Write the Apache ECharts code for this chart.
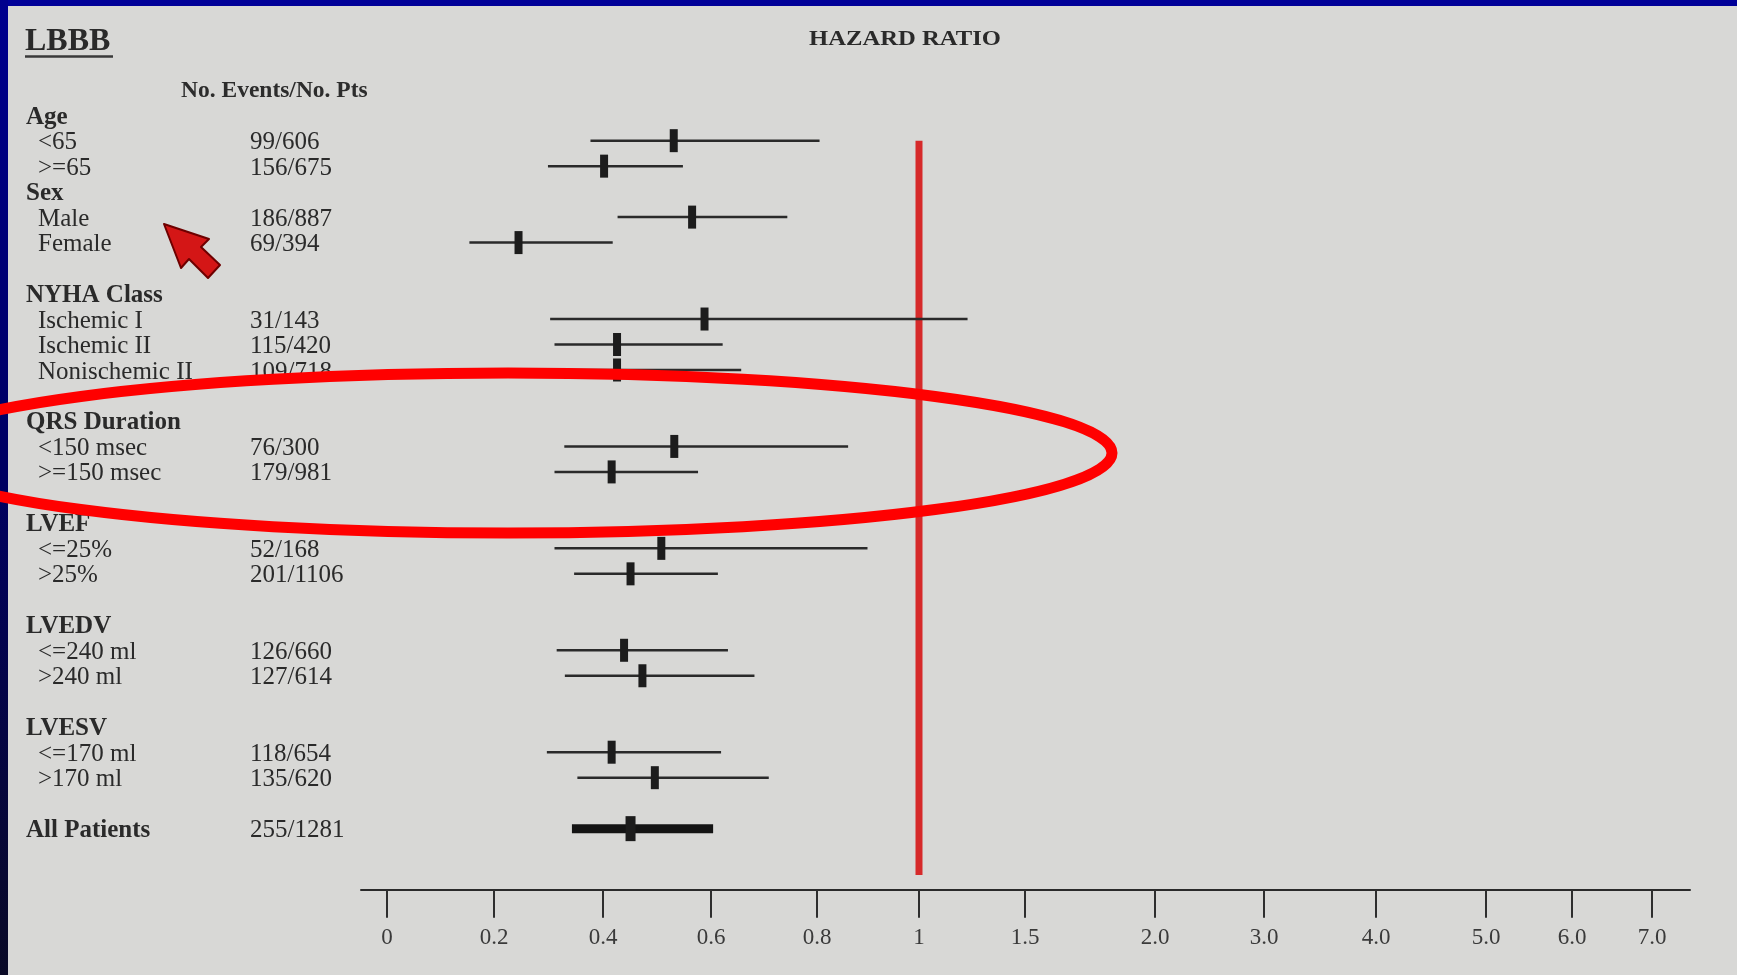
<!DOCTYPE html>
<html>
<head>
<meta charset="utf-8">
<title>LBBB – Hazard Ratio by Subgroup</title>
<script src="https://cdn.jsdelivr.net/npm/echarts@6/dist/echarts.min.js"></script>
<style>
  html, body { margin: 0; padding: 0; background: #d8d8d6; }
  #chart { width: 1737px; height: 975px; }
</style>
</head>
<body>
<div id="chart"></div>
<script>
// One entry per printed line, top to bottom: group headings, subgroups, blank spacer lines.
const rowLabels = [
  'Age', '<65', '>=65',
  'Sex', 'Male', 'Female', '',
  'NYHA Class', 'Ischemic I', 'Ischemic II', 'Nonischemic II', '',
  'QRS Duration', '<150 msec', '>=150 msec', '',
  'LVEF', '<=25%', '>25%', '',
  'LVEDV', '<=240 ml', '>240 ml', '',
  'LVESV', '<=170 ml', '>170 ml', '',
  'All Patients'
];
const eventCounts = [
  '', '99/606', '156/675',
  '', '186/887', '69/394', '',
  '', '31/143', '115/420', '109/718', '',
  '', '76/300', '179/981', '',
  '', '52/168', '201/1106', '',
  '', '126/660', '127/614', '',
  '', '118/654', '135/620', '',
  '255/1281'
];
const hazardRatio = [
  null, 0.531, 0.402,
  null, 0.565, 0.245, null,
  null, 0.588, 0.426, 0.426, null,
  null, 0.532, 0.416, null,
  null, 0.508, 0.451, null,
  null, 0.439, 0.473, null,
  null, 0.416, 0.496, null,
  0.451
];
const ciLower = [
  null, 0.377, 0.299,
  null, 0.427, 0.154, null,
  null, 0.303, 0.311, 0.330, null,
  null, 0.329, 0.311, null,
  null, 0.311, 0.347, null,
  null, 0.315, 0.330, null,
  null, 0.297, 0.353, null,
  0.343
];
const ciUpper = [
  null, 0.805, 0.548,
  null, 0.744, 0.418, null,
  null, 1.229, 0.622, 0.657, null,
  null, 0.861, 0.576, null,
  null, 0.899, 0.613, null,
  null, 0.632, 0.682, null,
  null, 0.619, 0.709, null,
  0.604
];
const tickValues = [0, 0.2, 0.4, 0.6, 0.8, 1, 1.5, 2, 3, 4, 5, 6, 7];
const tickLabels = ['0', '0.2', '0.4', '0.6', '0.8', '1', '1.5', '2.0', '3.0', '4.0', '5.0', '6.0', '7.0'];
const referenceHR = 1;

// The printed hazard-ratio axis is piecewise: every tick has its own place along the axis.
// tickPlaces gives that place (in axis units) for each entry of tickValues.
const tickPlaces = [0, 107, 216, 324, 430, 532, 638, 768, 877, 989, 1099, 1185, 1265];
function toAxis(hr) {
  for (let i = 0; i < tickValues.length - 1; i++) {
    const a = tickValues[i], b = tickValues[i + 1];
    if (hr <= b || i === tickValues.length - 2) {
      return tickPlaces[i] + (hr - a) / (b - a) * (tickPlaces[i + 1] - tickPlaces[i]);
    }
  }
  return tickPlaces[0];
}

const FONT = '"Liberation Serif", "Times New Roman", serif';
const TEXT_COLOR = '#2a2a2a';

const forestData = [];
rowLabels.forEach((label, i) => {
  if (hazardRatio[i] == null) return;
  forestData.push([
    toAxis(ciLower[i]), toAxis(hazardRatio[i]), toAxis(ciUpper[i]), i,
    label === 'All Patients' ? 1 : 0
  ]);
});
const textData = rowLabels.map((label, i) => [0, i]);

const chart = echarts.init(document.getElementById('chart'), null, { renderer: 'canvas' });

chart.setOption({
  animation: false,
  backgroundColor: '#d8d8d6',
  grid: { left: 361, right: 47, top: 89.7, bottom: 85.2 },
  xAxis: {
    type: 'value',
    position: 'bottom',
    min: -26,
    max: 1303,
    splitLine: { show: false },
    axisLine: { show: true, onZero: false, lineStyle: { color: '#2a2a2a', width: 2 } },
    axisTick: {
      show: true,
      customValues: tickPlaces,
      length: 28,
      lineStyle: { color: '#2e2e2e', width: 2 }
    },
    axisLabel: {
      show: true,
      customValues: tickPlaces,
      margin: 37,
      fontFamily: FONT,
      fontSize: 23,
      color: '#3a3a3a',
      formatter: v => {
        const k = tickPlaces.indexOf(v);
        return k >= 0 ? tickLabels[k] : '';
      }
    }
  },
  yAxis: {
    type: 'value',
    inverse: true,
    min: -1,
    max: 30.4,
    show: false
  },
  series: [
    {
      // line of no effect
      type: 'line',
      z: 1,
      silent: true,
      symbol: 'none',
      lineStyle: { color: '#d62a2a', width: 7 },
      data: [[toAxis(referenceHR), 1], [toAxis(referenceHR), 29.82]]
    },
    {
      // confidence interval bars with point estimate ticks
      type: 'custom',
      z: 3,
      silent: true,
      data: forestData,
      renderItem: (params, api) => {
        const row = api.value(3);
        const lo = api.coord([api.value(0), row]);
        const mid = api.coord([api.value(1), row]);
        const hi = api.coord([api.value(2), row]);
        const overall = api.value(4) === 1;
        const w = overall ? 10 : 8;
        const h = overall ? 25 : 23;
        return {
          type: 'group',
          children: [
            {
              type: 'line',
              shape: { x1: lo[0], y1: lo[1], x2: hi[0], y2: hi[1] },
              style: { stroke: overall ? '#141414' : '#2a2a2a', lineWidth: overall ? 9 : 2.5 }
            },
            {
              type: 'rect',
              shape: { x: mid[0] - w / 2, y: mid[1] - h / 2, width: w, height: h },
              style: { fill: '#1c1c1c' }
            }
          ]
        };
      }
    },
    {
      // subgroup names and event counts
      type: 'custom',
      z: 4,
      silent: true,
      data: textData,
      renderItem: (params, api) => {
        const i = params.dataIndex;
        const y = api.coord([0, api.value(1)])[1] + 2;
        const label = rowLabels[i];
        const ev = eventCounts[i];
        const heading = ev === '' || label === 'All Patients';
        const children = [];
        if (label) {
          children.push({
            type: 'text',
            x: heading ? 26 : 38,
            y: y,
            style: {
              text: label,
              fontFamily: FONT,
              fontSize: 25,
              fontWeight: heading ? 'bold' : 'normal',
              fill: TEXT_COLOR,
              align: 'left',
              verticalAlign: 'middle'
            }
          });
        }
        if (ev) {
          children.push({
            type: 'text',
            x: 250,
            y: y,
            style: {
              text: ev,
              fontFamily: FONT,
              fontSize: 25,
              fill: TEXT_COLOR,
              align: 'left',
              verticalAlign: 'middle'
            }
          });
        }
        return { type: 'group', children: children };
      }
    }
  ],
  graphic: [
    {
      type: 'text', x: 25, y: 42, z: 10,
      style: {
        text: 'LBBB', fontFamily: FONT, fontSize: 32, fontWeight: 'bold',
        fill: '#2a2a2a', align: 'left', verticalAlign: 'middle'
      }
    },
    {
      type: 'line', z: 10,
      shape: { x1: 25, y1: 56.5, x2: 113, y2: 56.5 },
      style: { stroke: '#3a3a3a', lineWidth: 2.5 }
    },
    {
      type: 'text', x: 809, y: 39, z: 10, scaleX: 1.12,
      style: {
        text: 'HAZARD RATIO', fontFamily: FONT, fontSize: 22, fontWeight: 'bold',
        fill: '#2a2a2a', align: 'left', verticalAlign: 'middle'
      }
    },
    {
      type: 'text', x: 181, y: 91, z: 10,
      style: {
        text: 'No. Events/No. Pts', fontFamily: FONT, fontSize: 23.5, fontWeight: 'bold',
        fill: '#2c2c2c', align: 'left', verticalAlign: 'middle'
      }
    },
    // slide frame
    {
      type: 'rect', z: 90,
      shape: { x: 0, y: 0, width: 1737, height: 6 },
      style: { fill: '#000098' }
    },
    {
      type: 'rect', z: 90,
      shape: { x: 0, y: 0, width: 8, height: 975 },
      style: {
        fill: new echarts.graphic.LinearGradient(0, 0, 0, 1, [
          { offset: 0, color: '#00008e' },
          { offset: 0.5, color: '#000060' },
          { offset: 1, color: '#0a0a26' }
        ])
      }
    },
    // hand-drawn highlight around the QRS duration rows
    {
      type: 'ellipse', z: 100,
      shape: { cx: 508, cy: 453, rx: 604, ry: 80 },
      style: { fill: null, stroke: '#ff0000', lineWidth: 11 }
    },
    // pointer arrow
    {
      type: 'polygon', z: 101,
      shape: {
        points: [[164, 224], [209, 239], [201, 247], [220, 265],
                 [208, 278], [189, 259], [181, 268]]
      },
      style: { fill: '#d41616', stroke: '#6e0000', lineWidth: 2, lineJoin: 'round' }
    }
  ]
});
</script>
</body>
</html>
